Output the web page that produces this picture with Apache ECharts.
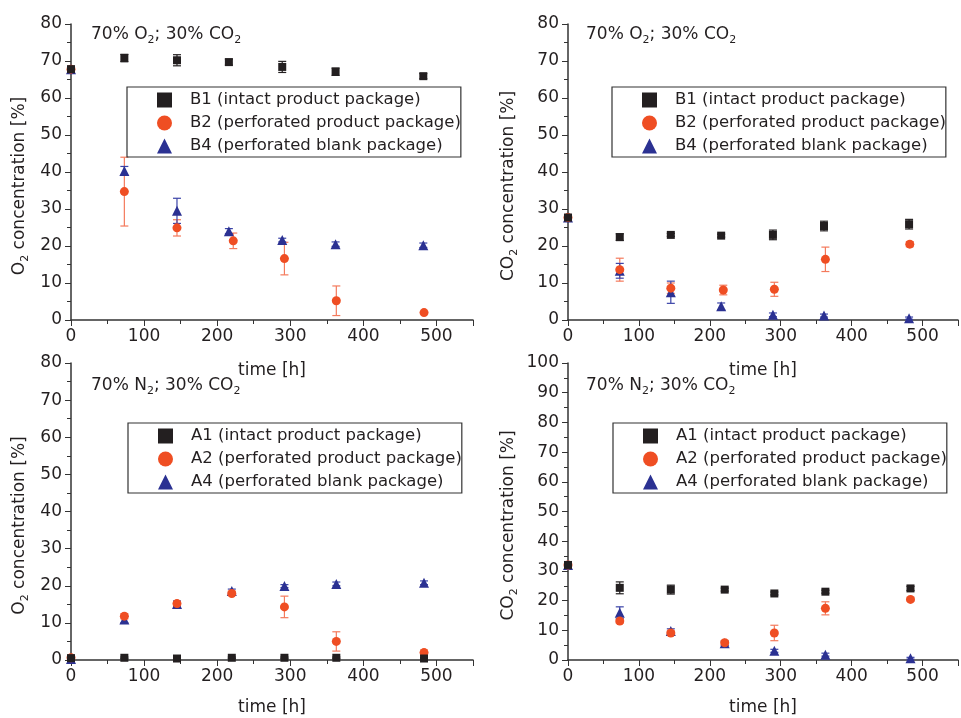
<!DOCTYPE html>
<html>
<head>
<meta charset="utf-8">
<script src="https://cdn.jsdelivr.net/npm/echarts@6/dist/echarts.min.js"></script>
<style>
  html, body { margin: 0; padding: 0; background: #fff; }
  #main { width: 961px; height: 718px; }
</style>
</head>
<body>
<div id="main"></div>
<script>
// ---- data ----
// 70% O2; 30% CO2 (B packages)
var tB1 = [0, 73, 145, 216, 289, 362, 482];
var tB2 = [0, 73, 145, 222, 292, 363, 483];
var tB4 = [0, 73, 145, 216, 289, 362, 482];
var o2B1 = [67.8, 70.8, 70.2, 69.7, 68.4, 67.1, 65.9];
var o2B1err = [0.5, 1.0, 1.5, 0.8, 1.5, 1.0, 0.7];
var o2B2 = [67.8, 34.7, 24.9, 21.4, 16.6, 5.2, 2.0];
var o2B2err = [0.5, 9.3, 2.2, 2.1, 4.4, 4.0, 0.3];
var o2B4 = [67.8, 40.3, 29.5, 24.0, 21.6, 20.5, 20.2];
var o2B4err = [0.5, 1.2, 3.4, 0.7, 0.5, 0.6, 0.6];

var tB1c = [0, 73, 145, 216, 289, 361, 481];
var tB2c = [0, 73, 145, 219, 291, 363, 482];
var tB4c = [0, 73, 145, 216, 289, 361, 481];
var co2B1 = [27.7, 22.4, 23.0, 22.8, 23.0, 25.4, 25.9];
var co2B1err = [0.5, 0.9, 0.4, 0.4, 1.3, 1.3, 1.3];
var co2B2 = [27.7, 13.6, 8.6, 8.1, 8.3, 16.4, 20.5];
var co2B2err = [0.5, 3.1, 1.4, 1.3, 1.9, 3.3, 0.7];
var co2B4 = [27.7, 13.3, 7.5, 3.7, 1.4, 1.2, 0.5];
var co2B4err = [0.5, 2.0, 3.0, 0.9, 0.5, 0.4, 0.3];

// 70% N2; 30% CO2 (A packages)
var tA = [0, 73, 145, 220, 292, 363, 483];
var o2A1 = [0.5, 0.6, 0.4, 0.6, 0.6, 0.6, 0.4];
var o2A1err = [0.2, 0.2, 0.2, 0.2, 0.2, 0.2, 0.2];
var o2A2 = [0.6, 11.8, 15.2, 17.9, 14.3, 5.0, 2.0];
var o2A2err = [0.2, 0.7, 0.6, 0.5, 2.9, 2.6, 0.7];
var o2A4 = [0.3, 10.9, 15.1, 18.6, 19.9, 20.5, 20.8];
var o2A4err = [0.2, 0.9, 0.8, 0.5, 0.4, 0.5, 0.5];

var tAc = [0, 73, 145, 221, 291, 363, 483];
var co2A1 = [32.0, 24.3, 23.7, 23.7, 22.4, 23.0, 24.1];
var co2A1err = [0.8, 2.0, 1.5, 0.5, 0.5, 0.5, 0.7];
var co2A2 = [32.0, 13.1, 9.1, 5.8, 9.1, 17.4, 20.4];
var co2A2err = [0.8, 0.7, 0.7, 0.7, 2.6, 2.2, 0.5];
var co2A4 = [32.0, 15.9, 9.8, 5.6, 3.1, 1.8, 0.6];
var co2A4err = [0.8, 2.0, 0.7, 0.7, 0.5, 0.5, 0.3];

var namesB = ['B1 (intact product package)', 'B2 (perforated product package)', 'B4 (perforated blank package)'];
var namesA = ['A1 (intact product package)', 'A2 (perforated product package)', 'A4 (perforated blank package)'];

var BLACK = '#231f20', ORANGE = '#ef4e23', BLUE = '#2b3192';
var ERR = ['#231f20', '#f47a5c', '#3b44a8'];
var COLORS = [BLACK, ORANGE, BLUE];
var SYMBOLS = ['rect', 'circle', 'triangle'];
var SIZES = [8, 9, 10];
var FONT = 'DejaVu Sans, sans-serif';
var FS = 17;
var TXT = '#231f20';

var subRich = { sub: { fontSize: 11, padding: [11, 0, 0, 0], color: TXT, fontFamily: FONT } };

var grids = [
  { left: 71, top: 24, width: 402, height: 296 },
  { left: 568, top: 24, width: 402, height: 296 },
  { left: 71, top: 363, width: 402, height: 297 },
  { left: 568, top: 363, width: 402, height: 297 }
];

function xAxisFor(i, gap) {
  return {
    gridIndex: i, type: 'value', min: 0, max: 550, interval: 100,
    name: 'time [h]', nameLocation: 'middle', nameGap: gap,
    nameTextStyle: { fontSize: FS, color: TXT, fontFamily: FONT },
    axisLine: { lineStyle: { color: '#333', width: 1.5 } },
    axisTick: { length: 6, lineStyle: { color: '#333' } },
    minorTick: { show: true, splitNumber: 2, length: 4, lineStyle: { color: '#333' } },
    splitLine: { show: false },
    axisLabel: { fontSize: FS, color: TXT, fontFamily: FONT, margin: 8,
      formatter: function (v) { return v % 100 === 0 ? v : ''; } }
  };
}
function yAxisFor(i, max, label, gap) {
  return {
    gridIndex: i, type: 'value', min: 0, max: max, interval: 10,
    name: label, nameLocation: 'middle', nameGap: gap,
    nameTextStyle: { fontSize: FS, color: TXT, fontFamily: FONT, rich: subRich, padding: [0, 28, 0, 0] },
    axisLine: { show: true, lineStyle: { color: '#333', width: 1.5 } },
    axisTick: { length: 6, lineStyle: { color: '#333' } },
    minorTick: { show: true, splitNumber: 2, length: 4, lineStyle: { color: '#333' } },
    splitLine: { show: false },
    axisLabel: { fontSize: FS, color: TXT, fontFamily: FONT, margin: 9 }
  };
}

function pts(t, y) { return t.map(function (x, k) { return [x, y[k]]; }); }
function errs(t, y, e) { return t.map(function (x, k) { return [x, y[k] - e[k], y[k] + e[k]]; }); }

function errSeries(i, t, y, e, color) {
  return {
    type: 'custom', xAxisIndex: i, yAxisIndex: i, silent: true, z: 1,
    data: errs(t, y, e),
    renderItem: function (params, api) {
      var lo = api.coord([api.value(0), api.value(1)]);
      var hi = api.coord([api.value(0), api.value(2)]);
      var w = 4;
      var st = { stroke: color, lineWidth: 1.2 };
      return { type: 'group', children: [
        { type: 'line', shape: { x1: lo[0], y1: lo[1], x2: hi[0], y2: hi[1] }, style: st },
        { type: 'line', shape: { x1: lo[0] - w, y1: lo[1], x2: lo[0] + w, y2: lo[1] }, style: st },
        { type: 'line', shape: { x1: hi[0] - w, y1: hi[1], x2: hi[0] + w, y2: hi[1] }, style: st }
      ] };
    }
  };
}
function dotSeries(i, name, k, t, y) {
  return {
    type: 'scatter', name: name, xAxisIndex: i, yAxisIndex: i, z: 2,
    symbol: SYMBOLS[k], symbolSize: SIZES[k],
    itemStyle: { color: COLORS[k], opacity: 1 },
    data: pts(t, y)
  };
}

var panels = [
  { names: namesB, t: [tB1, tB2, tB4], y: [o2B1, o2B2, o2B4], e: [o2B1err, o2B2err, o2B4err] },
  { names: namesB, t: [tB1c, tB2c, tB4c], y: [co2B1, co2B2, co2B4], e: [co2B1err, co2B2err, co2B4err] },
  { names: namesA, t: [tA, tA, tA], y: [o2A1, o2A2, o2A4], e: [o2A1err, o2A2err, o2A4err] },
  { names: namesA, t: [tAc, tAc, tAc], y: [co2A1, co2A2, co2A4], e: [co2A1err, co2A2err, co2A4err] }
];

var series = [];
panels.forEach(function (p, i) {
  [1, 2, 0].forEach(function (k) {
    series.push(errSeries(i, p.t[k], p.y[k], p.e[k], ERR[k]));
  });
  [2, 1, 0].forEach(function (k) {
    series.push(dotSeries(i, p.names[k], k, p.t[k], p.y[k]));
  });
});

var legendPos = [[127, 87], [612, 87], [128, 423], [613, 423]];
var legends = panels.map(function (p, i) {
  return {
    orient: 'vertical', left: legendPos[i][0], top: legendPos[i][1],
    selectedMode: false,
    borderColor: '#333', borderWidth: 1.2, borderRadius: 0,
    padding: [4, 0, 2, 30], itemGap: 5, itemWidth: 15, itemHeight: 15,
    textStyle: { fontSize: 16.5, color: TXT, fontFamily: FONT, lineHeight: 18, padding: [0, 0, 0, 13] },
    data: p.names.map(function (n, k) {
      return { name: n, icon: SYMBOLS[k], itemStyle: { color: COLORS[k] } };
    })
  };
});

var labels = [
  ['70% O{sub|2}; 30% CO{sub|2}', 91, 26],
  ['70% O{sub|2}; 30% CO{sub|2}', 586, 26],
  ['70% N{sub|2}; 30% CO{sub|2}', 91, 37 + 340],
  ['70% N{sub|2}; 30% CO{sub|2}', 586, 37 + 340]
];

var chart = echarts.init(document.getElementById('main'));
chart.setOption({
  animation: false,
  backgroundColor: '#fff',
  grid: grids,
  xAxis: [xAxisFor(0, 42), xAxisFor(1, 42), xAxisFor(2, 39), xAxisFor(3, 39)],
  yAxis: [
    yAxisFor(0, 80, 'O{sub|2} concentration [%]', 40),
    yAxisFor(1, 80, 'CO{sub|2} concentration [%]', 48),
    yAxisFor(2, 80, 'O{sub|2} concentration [%]', 40),
    yAxisFor(3, 100, 'CO{sub|2} concentration [%]', 48)
  ],
  legend: legends,
  graphic: labels.map(function (l) {
    return {
      type: 'text', left: l[1], top: l[2], z: 10,
      style: { text: l[0], fontSize: FS, fill: TXT, fontFamily: FONT, rich: subRich }
    };
  }),
  series: series
});

window.addEventListener('resize', function () { chart.resize(); });
</script>
</body>
</html>
